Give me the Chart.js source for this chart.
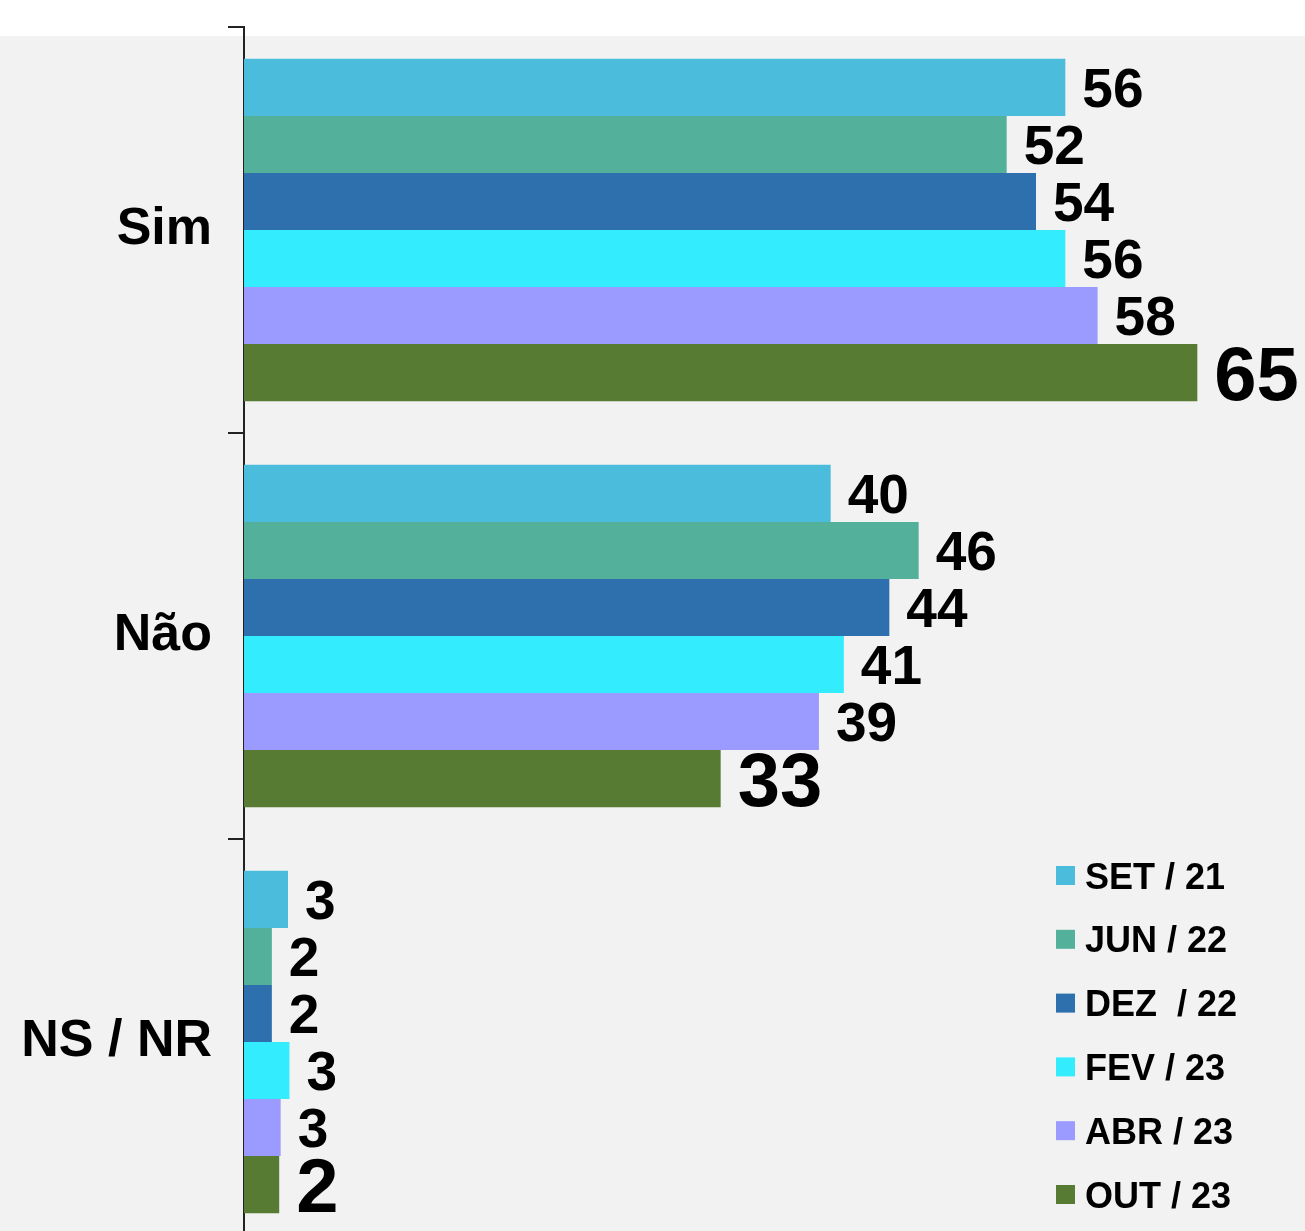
<!DOCTYPE html>
<html>
<head>
<meta charset="utf-8">
<script src="https://cdn.jsdelivr.net/npm/chart.js@4"></script>
<style>
  html, body { margin: 0; padding: 0; background: #ffffff; overflow: hidden; }
  #bg { position: absolute; left: 0; top: 36px; width: 1305px; height: 1300px; background: #f2f2f2; }
  #wrap { position: absolute; left: 0; top: 0; width: 1305px; height: 1250px; }
</style>
</head>
<body>
<div id="bg"></div>
<div id="wrap"><canvas id="chart"></canvas></div>
<script>
// categories and series
const categories = ["Sim", "Não", "NS / NR"];
const seriesNames = ["SET / 21", "JUN / 22", "DEZ  / 22", "FEV / 23", "ABR / 23", "OUT / 23"];
const seriesColors = ["#4bbcdc", "#52b09b", "#2d70ad", "#33edff", "#9a9aff", "#577b32"];

// values (labels show them rounded)
const set21 = [56, 40, 3.0];
const jun22 = [52, 46, 1.9];
const dez22 = [54, 44, 1.9];
const fev23 = [56, 40.9, 3.1];
const abr23 = [58.2, 39.2, 2.5];
const out23 = [65, 32.5, 2.4];

const seriesValues = [set21, jun22, dez22, fev23, abr23, out23];

const FONT = "'Liberation Sans', Arial, sans-serif";

// value labels at the end of each bar
const valueLabels = {
  id: "valueLabels",
  afterDatasetsDraw(chart) {
    const ctx = chart.ctx;
    ctx.save();
    ctx.fillStyle = "#000";
    ctx.textAlign = "left";
    ctx.textBaseline = "alphabetic";
    chart.data.datasets.forEach((ds, i) => {
      const big = i === chart.data.datasets.length - 1;
      const fs = big ? 76 : 55;
      ctx.font = "bold " + fs + "px " + FONT;
      chart.getDatasetMeta(i).data.forEach((bar, j) => {
        ctx.fillText(String(Math.round(ds.data[j])), bar.x + 17, bar.y + fs * 0.36);
      });
    });
    ctx.restore();
  }
};

// legend in the lower right corner
const cornerLegend = {
  id: "cornerLegend",
  afterDraw(chart) {
    const ctx = chart.ctx;
    ctx.save();
    ctx.font = "bold 36px " + FONT;
    ctx.textBaseline = "alphabetic";
    chart.data.datasets.forEach((ds, i) => {
      const top = 866 + i * 63.8;
      ctx.fillStyle = ds.backgroundColor;
      ctx.fillRect(1056, top, 19, 19);
      ctx.fillStyle = "#000";
      ctx.fillText(ds.label, 1085, top + 22.5);
    });
    ctx.restore();
  }
};

new Chart(document.getElementById("chart"), {
  type: "bar",
  data: {
    labels: categories,
    datasets: seriesNames.map((name, i) => ({
      label: name,
      data: seriesValues[i],
      backgroundColor: seriesColors[i],
      borderWidth: 0,
      categoryPercentage: 0.843,
      barPercentage: 1
    }))
  },
  options: {
    indexAxis: "y",
    responsive: true,
    maintainAspectRatio: false,
    animation: false,
    layout: { padding: { left: 20, right: 5, top: 27, bottom: 5 } },
    plugins: {
      legend: { display: false },
      tooltip: { enabled: false }
    },
    scales: {
      x: { display: false, min: 0, max: 72 },
      y: {
        afterFit: (s) => { s.width = 224; s.paddingTop = 0; s.paddingBottom = 0; },
        border: { display: true, color: "#222", width: 2 },
        grid: {
          offset: true,
          drawOnChartArea: false,
          drawTicks: true,
          tickLength: 16,
          color: "#222",
          lineWidth: 2
        },
        ticks: {
          padding: 16,
          color: "#000",
          font: { family: FONT, size: 52, weight: "bold" }
        }
      }
    }
  },
  plugins: [valueLabels, cornerLegend]
});
</script>
</body>
</html>
